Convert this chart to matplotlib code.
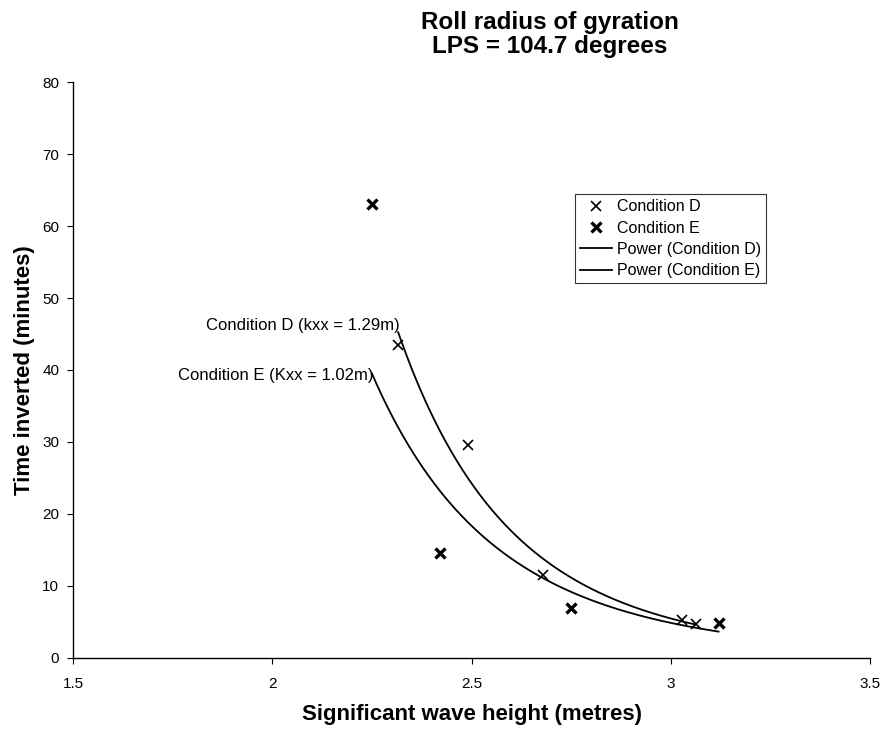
import numpy as np
import matplotlib.pyplot as plt

plt.rcParams['font.family'] = ['Liberation Sans', 'DejaVu Sans']

# significant wave height (m) vs time to inversion (min)
hs_d = [2.316, 2.49, 2.68, 3.027, 3.063]
t_d = [43.5, 29.6, 11.5, 5.3, 4.7]
hs_e = [2.25, 2.42, 2.75, 3.12]
t_e = [63.0, 14.6, 7.0, 4.8]

xticks = [1.5, 2, 2.5, 3, 3.5]
yticks = [0, 10, 20, 30, 40, 50, 60, 70, 80]


def power_fit(x, y):
    # y = a * x**b, least squares in log space
    b, lna = np.polyfit(np.log(x), np.log(y), 1)
    xs = np.linspace(min(x), max(x), 200)
    return xs, np.exp(lna) * xs ** b


fig = plt.figure(figsize=(8.82, 7.31), dpi=100)
ax = fig.add_axes([0.0828, 0.0999, 0.9036, 0.7879])

ax.plot(hs_d, t_d, ls='none', marker='x', ms=6.5, mew=1.2, color='black',
        label='Condition D')
ax.plot(hs_e, t_e, ls='none', marker='x', ms=6.5, mew=2.4, color='black',
        label='Condition E')

xd, yd = power_fit(hs_d, t_d)
xe, ye = power_fit(hs_e, t_e)
ax.plot(xd, yd, color='black', lw=1.3, label='Power (Condition D)')
ax.plot(xe, ye, color='black', lw=1.3, label='Power (Condition E)')

ax.text(xd[0] + 0.005, yd[0] + 1.0, 'Condition D (kxx = 1.29m)', ha='right',
        va='center', fontsize=12)
ax.text(xe[0] + 0.003, ye[0] - 0.3, 'Condition E (Kxx = 1.02m)', ha='right',
        va='center', fontsize=12)

ax.set_xlim(1.5, 3.5)
ax.set_ylim(0, 80)
ax.set_xticks(xticks)
ax.set_xticklabels(['1.5', '2', '2.5', '3', '3.5'])
ax.set_yticks(yticks)
ax.tick_params(direction='out', length=4, width=0.8, labelsize=11)
ax.tick_params(axis='x', pad=10)
ax.tick_params(axis='y', pad=6)
for side in ('top', 'right'):
    ax.spines[side].set_visible(False)
for side in ('left', 'bottom'):
    ax.spines[side].set_linewidth(1.0)

ax.set_xlabel('Significant wave height (metres)', fontsize=16,
              fontweight='bold', labelpad=9)
ax.set_ylabel('Time inverted (minutes)', fontsize=16, fontweight='bold',
              labelpad=5)

fig.text(0.623, 0.985, 'Roll radius of gyration\nLPS = 104.7 degrees',
         ha='center', va='top', fontsize=17.5, fontweight='bold',
         linespacing=1.05)

leg = ax.legend(loc='upper left', bbox_to_anchor=(0.630, 0.805),
                fontsize=11.5, frameon=True, fancybox=False, handlelength=2.0,
                borderpad=0.3, labelspacing=0.4, handletextpad=0.3,
                borderaxespad=0)
leg.get_frame().set_edgecolor('black')
leg.get_frame().set_linewidth(0.8)

fig.savefig('out.png', dpi=100)
